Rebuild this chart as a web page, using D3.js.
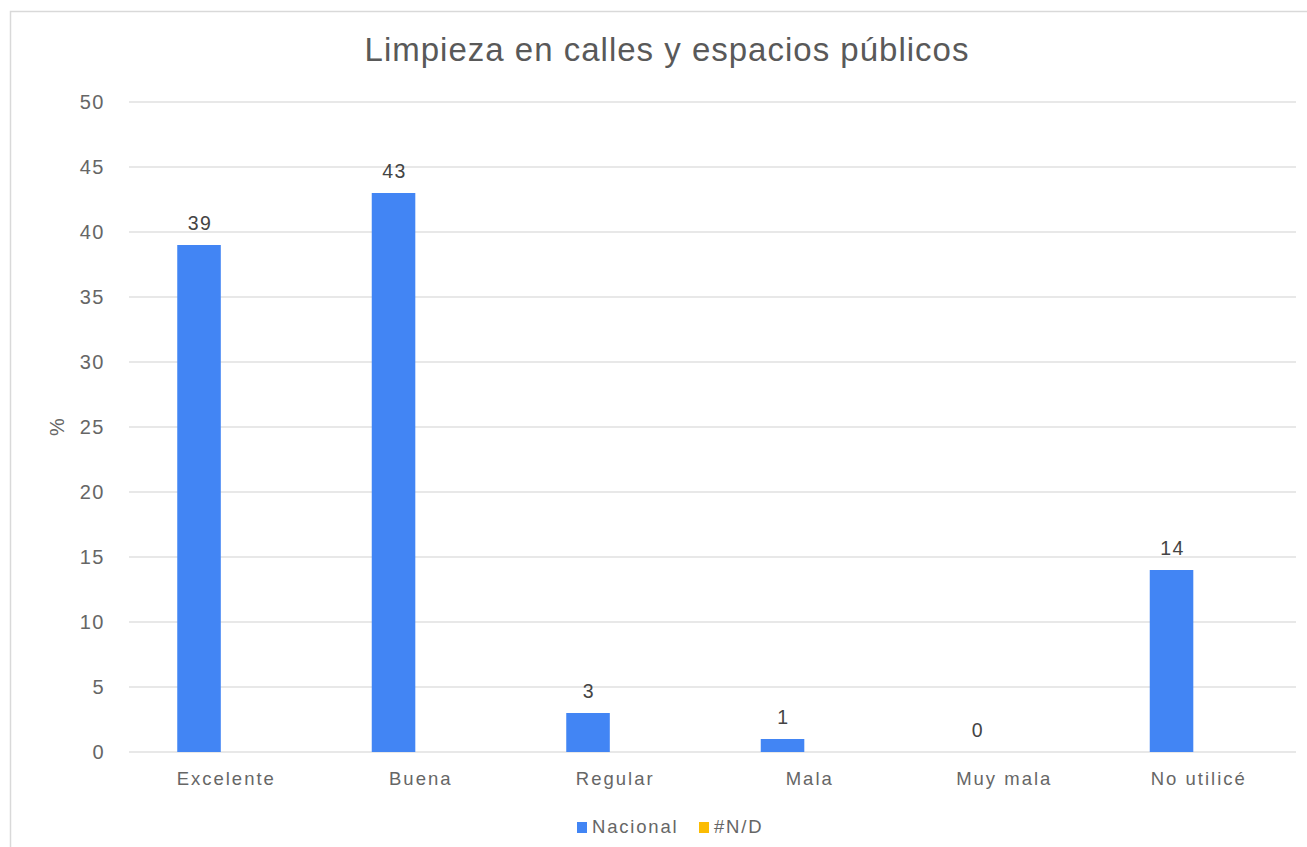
<!DOCTYPE html>
<html><head><meta charset="utf-8">
<script src="https://cdn.jsdelivr.net/npm/d3@7"></script>
<style>body{margin:0;background:#fff;font-family:"Liberation Sans",Arial,sans-serif;}</style>
</head><body><svg id="c" width="1307" height="847"></svg>
<script>
const categories = ["Excelente","Buena","Regular","Mala","Muy mala","No utilicé"];
const series = ["Nacional","#N/D"];
const nacional = [39,43,3,1,0,14];
const nd = [null,null,null,null,null,null];
const yTicks = [0,5,10,15,20,25,30,35,40,45,50];
const colors = {"Nacional":"#4285F4","#N/D":"#FBBC04"};

const FF = "Liberation Sans, Arial, sans-serif";
const svg = d3.select("#c");
svg.append("rect").attr("x",10.5).attr("y",11.5).attr("width",1310).attr("height",850)
  .attr("fill","#fff").attr("stroke","#d9d9d9").attr("stroke-width",1.5);

const L=129, R=1296, T=102, B=752;
const x0 = d3.scaleBand().domain(categories).range([L,R]).padding(0);
const bw = x0.bandwidth();
const x1 = d3.scaleBand().domain(series).range([bw/2-49, bw/2+49]).paddingInner(0.2).paddingOuter(0);
const y = d3.scaleLinear().domain([0,50]).range([B,T]);

svg.append("text").attr("x",667).attr("y",61).attr("text-anchor","middle")
  .attr("font-size",33).attr("letter-spacing","1px").attr("fill","#595959")
  .text("Limpieza en calles y espacios públicos");

const g = svg.append("g");
g.selectAll("line.grid").data(yTicks).join("line").attr("class","grid")
  .attr("x1",L).attr("x2",R).attr("y1",d=>y(d)).attr("y2",d=>y(d))
  .attr("stroke","#e0e0e0").attr("stroke-width",1.5);

const yAxis = d3.axisLeft(y).tickValues(yTicks).tickSize(0).tickPadding(0);
const ya = svg.append("g").attr("transform",`translate(${L-24},0)`).call(yAxis);
ya.select(".domain").remove();
ya.selectAll("text").attr("font-size",20).attr("letter-spacing","1.5px").attr("fill","#666").attr("font-family",FF);

svg.append("text").attr("transform","translate(64,427) rotate(-90)").attr("text-anchor","middle")
  .attr("font-size",20).attr("fill","#666").text("%");

const xAxis = d3.axisBottom(x0).tickSize(0).tickPadding(0);
const xa = svg.append("g").attr("transform",`translate(0,${B+20})`).call(xAxis);
xa.select(".domain").remove();
xa.selectAll("text").attr("font-size",18.5).attr("letter-spacing","2px").attr("fill","#666").attr("font-family",FF).attr("dy","0.71em");

const rows = categories.map((c,i)=>({c, vals:[{s:"Nacional",v:nacional[i]},{s:"#N/D",v:nd[i]}]}));
const grp = svg.selectAll("g.cat").data(rows).join("g").attr("class","cat")
  .attr("transform",d=>`translate(${x0(d.c)},0)`);
grp.selectAll("rect").data(d=>d.vals.filter(e=>e.v!==null)).join("rect")
  .attr("x",d=>x1(d.s)).attr("width",x1.bandwidth())
  .attr("y",d=>y(d.v)).attr("height",d=>B-y(d.v)).attr("fill",d=>colors[d.s]);
grp.selectAll("text").data(d=>d.vals.filter(e=>e.v!==null)).join("text")
  .attr("x",d=>x1(d.s)+x1.bandwidth()/2+1).attr("y",d=>y(d.v)-15)
  .attr("text-anchor","middle").attr("font-size",19.5).attr("letter-spacing","1.5px").attr("fill","#444").text(d=>d.v);

const leg = svg.append("g");
const items = [{s:"Nacional",x:577},{s:"#N/D",x:699}];
items.forEach(it=>{
  leg.append("rect").attr("x",it.x).attr("y",822).attr("width",10).attr("height",11).attr("fill",colors[it.s]);
  leg.append("text").attr("x",it.x+15).attr("y",833).attr("font-size",18.5).attr("letter-spacing","1.8px").attr("fill","#666").text(it.s);
});
</script></body></html>
